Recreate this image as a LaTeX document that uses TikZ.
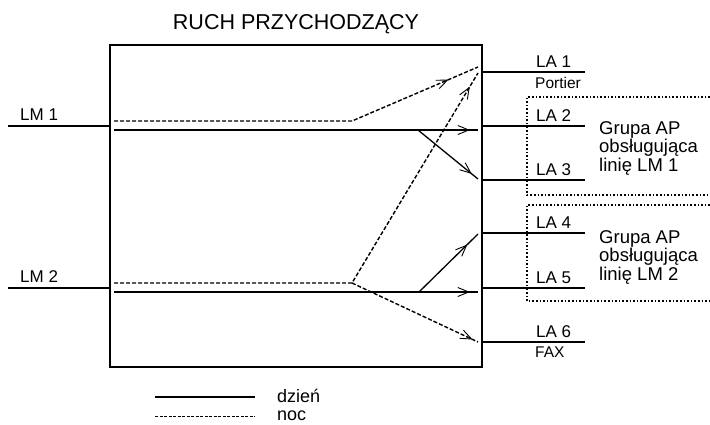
\documentclass[tikz,border=0pt]{standalone}
\usepackage{fontspec}
\setmainfont{Liberation Sans}
\usetikzlibrary{arrows.meta, decorations.markings}

\tikzset{
	day/.style={line width=1.3pt},
	night/.style={line width=1.4pt, dash pattern=on 4pt off 2pt},
	dots/.style={line width=1.6pt, dash pattern=on 1.6pt off 2pt},
	arrowat/.style={postaction={decorate}, decoration={markings,
		mark=at position -#1 with {\arrow{Straight Barb[length=11pt,width=9pt,line width=0.9pt]}}}},
	lab/.style={anchor=base west, inner sep=0pt, font=\fontsize{17}{18}\selectfont},
	small/.style={anchor=base west, inner sep=0pt, font=\fontsize{15.5}{16}\selectfont},
	grptext/.style={anchor=base west, inner sep=0pt, align=left, font=\fontsize{18.5}{16.2}\selectfont},
}

\begin{document}
\begin{tikzpicture}[x=1pt, y=-1pt]
	\useasboundingbox (0,0) rectangle (710,424);
	\node[anchor=base, inner sep=0pt, font=\fontsize{21.5}{22}\selectfont] (title) at (296,29) {RUCH PRZYCHODZĄCY};

	\coordinate (nw) at (110,45);
	\coordinate (se) at (482,367);
	\draw[line width=1.5pt] (nw) rectangle (se);

	% incoming lines
	\foreach \n/\y in {1/126,2/288} {
		\coordinate (lm\n) at (8,\y);
		\coordinate (lm\n e) at (110,\y);
		\draw[day] (lm\n) -- (lm\n e);
		\node[lab] (lmlab\n) at (20,\y-6) {LM \n};
	}

	% extensions
	\foreach \n/\y in {1/72,2/126,3/180,4/233,5/288,6/342} {
		\coordinate (la\n) at (482,\y);
		\coordinate (la\n e) at (585,\y);
		\draw[day] (la\n) -- (la\n e);
		\node[lab] (lalab\n) at (536,\y-5) {LA \n};
	}
	\node[small] (portier) at (535,88) {Portier};
	\node[small] (fax) at (535,357) {FAX};

	% day routes
	\coordinate (d1s) at (114,130);
	\coordinate (d1e) at (478,130);
	\coordinate (d1b) at (418,130);
	\coordinate (d1t) at (478,179);
	\coordinate (d2s) at (114,292);
	\coordinate (d2e) at (478,292);
	\coordinate (d2b) at (419,292);
	\coordinate (d2t) at (478,234);
	\draw[day, arrowat=8pt] (d1s) -- (d1e);
	\draw[day, arrowat=8pt] (d1b) -- (d1t);
	\draw[day, arrowat=8pt] (d2s) -- (d2e);
	\draw[day, arrowat=15pt] (d2b) -- (d2t);

	% night routes
	\coordinate (n1s) at (114,121);
	\coordinate (n1b) at (352,121);
	\coordinate (n1e) at (478,67);
	\coordinate (n2s) at (114,283);
	\coordinate (n2b) at (352,283);
	\coordinate (n2e) at (478,73);
	\coordinate (n2f) at (478,342);
	\draw[night, arrowat=32pt] (n1s) -- (n1b) -- (n1e);
	\draw[night, arrowat=16pt] (n2s) -- (n2b) -- (n2e);
	\draw[night, arrowat=6pt] (n2b) -- (n2f);

	% groups
	\draw[dots] (710,97) -- (527,97) -- (527,195) -- (710,195);
	\draw[dots] (710,205) -- (527,205) -- (527,301) -- (710,301);
	\node[grptext] (grp1) at (599,171) {Grupa AP\\obsługująca\\linię LM 1};
	\node[grptext] (grp2) at (599,280) {Grupa AP\\obsługująca\\linię LM 2};

	% legend
	\coordinate (k1) at (155,397);
	\coordinate (k1e) at (255,397);
	\coordinate (k2) at (155,416);
	\coordinate (k2e) at (255,416);
	\draw[day] (k1) -- (k1e);
	\draw[night, line width=1pt, dash pattern=on 3pt off 1.5pt] (k2) -- (k2e);
	\node[lab, font=\fontsize{18}{18}\selectfont] (kday) at (277,402) {dzień};
	\node[lab, font=\fontsize{18}{18}\selectfont] (knight) at (277,420) {noc};
\end{tikzpicture}
\end{document}
